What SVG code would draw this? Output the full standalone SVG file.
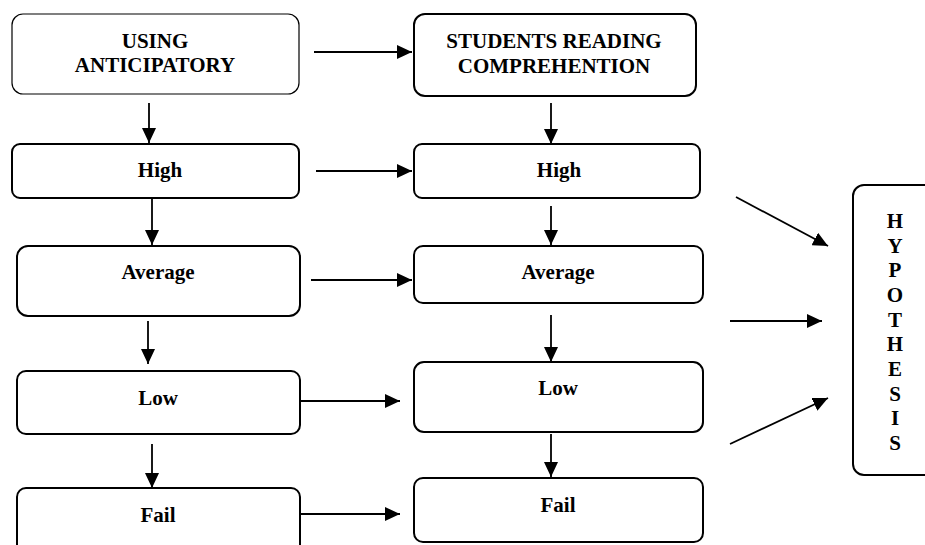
<svg xmlns="http://www.w3.org/2000/svg" width="925" height="545" viewBox="0 0 925 545">
<style>
.box{fill:#fff;stroke:#000;stroke-width:2}
.thin{stroke-width:1.2}
.t{font-family:"Liberation Serif","Times New Roman",serif;font-weight:bold;font-size:21px;fill:#000;text-anchor:middle}
.c{fill:none;stroke:#000;stroke-width:1.8}
</style>
<defs>
<marker id="ah" markerUnits="userSpaceOnUse" markerWidth="16" markerHeight="14" refX="15" refY="7" orient="auto">
<path d="M0,0 L15,7 L0,14 Z" fill="#000"/>
</marker>
</defs>
<rect width="925" height="545" fill="#fff"/>
<g id="n-using">
<rect class="box thin" x="12" y="14" width="287" height="80" rx="11"/>
<text class="t" x="155" y="48">USING</text>
<text class="t" x="155" y="72">ANTICIPATORY</text>
</g>
<g id="n-students">
<rect class="box" x="414" y="14" width="282" height="82" rx="11"/>
<text class="t" x="554" y="48">STUDENTS READING</text>
<text class="t" x="554" y="73">COMPREHENTION</text>
</g>
<g id="n-high-l">
<rect class="box" x="12" y="144" width="287" height="54" rx="8"/>
<text class="t" x="160" y="177">High</text>
</g>
<g id="n-high-r">
<rect class="box" x="414" y="144" width="286" height="54" rx="8"/>
<text class="t" x="559" y="177">High</text>
</g>
<g id="n-avg-l">
<rect class="box" x="17" y="246" width="283" height="70" rx="11"/>
<text class="t" x="158" y="279">Average</text>
</g>
<g id="n-avg-r">
<rect class="box" x="414" y="246" width="289" height="57" rx="9"/>
<text class="t" x="558" y="279">Average</text>
</g>
<g id="n-low-l">
<rect class="box" x="17" y="371" width="283" height="63" rx="9"/>
<text class="t" x="158" y="405">Low</text>
</g>
<g id="n-low-r">
<rect class="box" x="414" y="362" width="289" height="70" rx="10"/>
<text class="t" x="558" y="395">Low</text>
</g>
<g id="n-fail-l">
<rect class="box" x="17" y="488" width="283" height="80" rx="9"/>
<text class="t" x="158" y="522">Fail</text>
</g>
<g id="n-fail-r">
<rect class="box" x="414" y="478" width="289" height="64" rx="9"/>
<text class="t" x="558" y="512">Fail</text>
</g>
<g id="n-hypothesis">
<rect class="box" x="853" y="185" width="90" height="290" rx="11"/>
<text class="t" x="895" y="228">H</text>
<text class="t" x="895" y="253">Y</text>
<text class="t" x="895" y="277">P</text>
<text class="t" x="895" y="302">O</text>
<text class="t" x="895" y="327">T</text>
<text class="t" x="895" y="351">H</text>
<text class="t" x="895" y="376">E</text>
<text class="t" x="895" y="401">S</text>
<text class="t" x="895" y="425">I</text>
<text class="t" x="895" y="450">S</text>
</g>
<g id="connectors">
<path class="c" d="M314,52 H412" marker-end="url(#ah)"/>
<path class="c" d="M149,103 V143" marker-end="url(#ah)"/>
<path class="c" d="M551,103 V144" marker-end="url(#ah)"/>
<path class="c" d="M316,171 H412" marker-end="url(#ah)"/>
<path class="c" d="M152,198 V245" marker-end="url(#ah)"/>
<path class="c" d="M551,206 V245" marker-end="url(#ah)"/>
<path class="c" d="M311,280 H412" marker-end="url(#ah)"/>
<path class="c" d="M148,321 V364" marker-end="url(#ah)"/>
<path class="c" d="M551,315 V362" marker-end="url(#ah)"/>
<path class="c" d="M300,401 H400" marker-end="url(#ah)"/>
<path class="c" d="M152,444 V488" marker-end="url(#ah)"/>
<path class="c" d="M551,434 V477" marker-end="url(#ah)"/>
<path class="c" d="M300,514 H400" marker-end="url(#ah)"/>
<path class="c" d="M736,197 L828,246" marker-end="url(#ah)"/>
<path class="c" d="M730,321 H822" marker-end="url(#ah)"/>
<path class="c" d="M730,444 L828,398" marker-end="url(#ah)"/>
</g>
</svg>
